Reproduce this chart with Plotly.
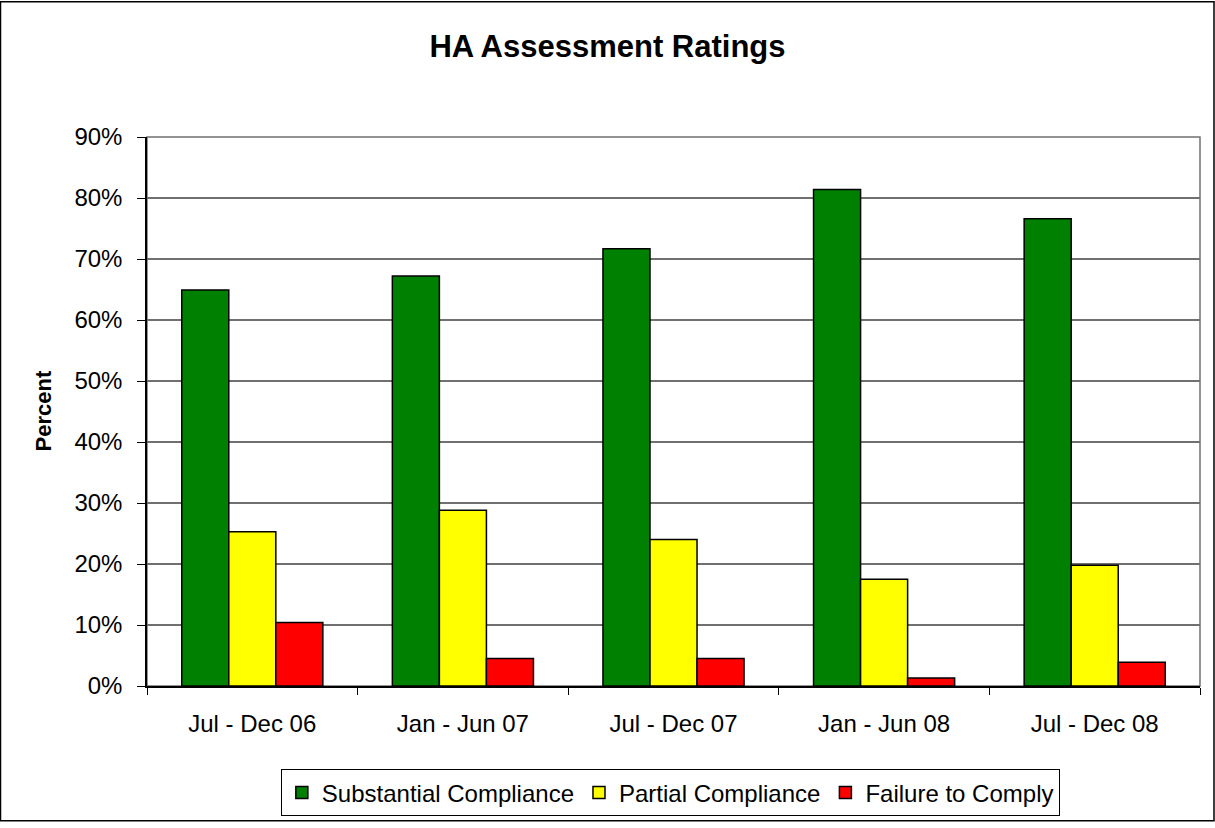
import plotly.graph_objects as go

# HA assessment ratings by half-year period (percent of assessments)
periods = ["Jul - Dec 06", "Jan - Jun 07", "Jul - Dec 07", "Jan - Jun 08", "Jul - Dec 08"]
substantial = [64.9, 67.2, 71.7, 81.4, 76.6]
partial = [25.3, 28.8, 24.0, 17.5, 19.8]
failure = [10.4, 4.5, 4.5, 1.3, 3.9]

FONT = "Arial, Liberation Sans, sans-serif"

fig = go.Figure()
fig.add_trace(go.Bar(x=periods, y=substantial, name="Substantial Compliance",
                     marker=dict(color="#008000", line=dict(color="black", width=1.5))))
fig.add_trace(go.Bar(x=periods, y=partial, name="Partial Compliance",
                     marker=dict(color="#FFFF00", line=dict(color="black", width=1.5))))
fig.add_trace(go.Bar(x=periods, y=failure, name="Failure to Comply",
                     marker=dict(color="#FF0000", line=dict(color="black", width=1.5))))

fig.update_layout(
    width=1215, height=828,
    barmode="group", bargap=0.33, bargroupgap=0,
    paper_bgcolor="white", plot_bgcolor="white",
    margin=dict(l=147, r=15, t=137, b=137),
    font=dict(family=FONT, color="black", size=24),
    title=dict(text="<b>HA Assessment Ratings</b>", x=0.5, xanchor="center",
               y=1 - 46 / 828, yanchor="middle", yref="container",
               font=dict(family=FONT, size=31, color="black")),
    showlegend=True,
    legend=dict(orientation="h", x=0.497, xanchor="center", y=-0.152, yanchor="top",
                bordercolor="black", borderwidth=1, bgcolor="white",
                font=dict(family=FONT, size=24), itemwidth=30, traceorder="normal"),
)

fig.update_yaxes(range=[0, 90], dtick=10, ticksuffix="%", showgrid=True,
                 gridcolor="#707070", gridwidth=1.5, showline=True, linecolor="black",
                 linewidth=1.5, ticks="outside", ticklen=8, tickcolor="black",
                 tickfont=dict(size=24), ticklabelstandoff=10, zeroline=False)
fig.update_xaxes(showline=True, linecolor="black", linewidth=1.5, ticks="outside",
                 tickson="boundaries", ticklen=7, tickcolor="black",
                 tickfont=dict(size=24), ticklabelstandoff=15)

# plot area border (top/right) and outer chart frame
fig.add_shape(type="rect", xref="paper", yref="paper", x0=0, x1=1, y0=0, y1=1,
              line=dict(color="#707070", width=1.5), layer="below")
fig.add_shape(type="rect", xref="paper", yref="paper",
              x0=(0.5 - 147) / 1053, x1=(1214 - 147) / 1053,
              y0=(691 - 827) / 554, y1=(691 - 0.5) / 554,
              line=dict(color="black", width=1.5))

fig.add_annotation(text="<b>Percent</b>", textangle=-90, xref="paper", yref="paper",
                   x=(43 - 147) / 1053, y=0.5, xanchor="center", yanchor="middle",
                   showarrow=False, font=dict(family=FONT, size=22, color="black"))

fig.write_html("out.html", config={"displayModeBar": False},
               post_script="document.body.style.margin='0';")
